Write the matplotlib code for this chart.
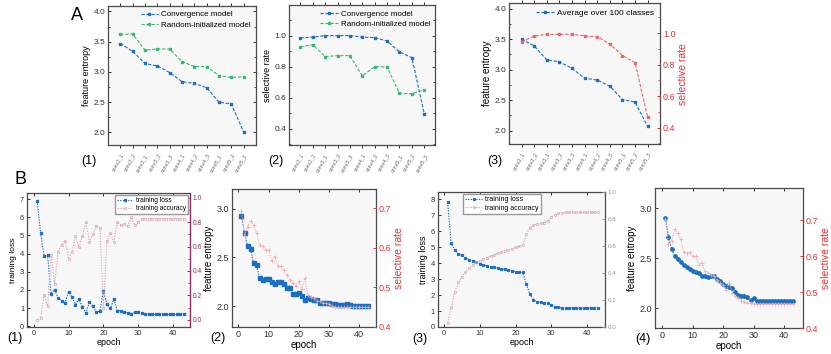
import matplotlib
matplotlib.use("Agg")
import matplotlib.pyplot as plt
from matplotlib.ticker import MultipleLocator

plt.rcParams["font.family"] = ["Liberation Sans", "DejaVu Sans"]

# ── data ─────────────────────────────────────────────────────────────────────
layers = ["conv2_1", "conv2_2", "conv3_1", "conv3_2", "conv3_3", "conv4_1",
          "conv4_2", "conv4_3", "conv5_1", "conv5_2", "conv5_3"]

a1_conv = [3.47, 3.34, 3.14, 3.10, 2.99, 2.84, 2.81, 2.74, 2.50, 2.47, 2.01]
a1_rand = [3.62, 3.63, 3.36, 3.38, 3.38, 3.17, 3.09, 3.09, 2.94, 2.91, 2.92]

a2_conv = [0.985, 0.99, 1.0, 1.0, 1.0, 0.99, 0.987, 0.965, 0.895, 0.858, 0.495]
a2_rand = [0.927, 0.942, 0.865, 0.871, 0.871, 0.74, 0.80, 0.798, 0.628, 0.626, 0.652]

a3_entropy = [3.50, 3.39, 3.16, 3.13, 3.02, 2.86, 2.83, 2.73, 2.51, 2.47, 2.07]
a3_rate = [0.945, 0.981, 0.992, 0.992, 0.994, 0.981, 0.977, 0.931, 0.857, 0.813, 0.467]

epochs = list(range(1, 44))

b1_loss = [6.9, 5.15, 3.85, 3.9, 1.78, 2.02, 1.56, 1.41, 1.3, 1.87, 1.6,
           1.19, 1.5, 1.05, 0.73, 1.34, 1.1, 0.77, 0.84, 1.93, 1.22, 0.98,
           1.48, 0.86, 0.86, 0.77, 0.74, 0.65, 0.79, 0.79, 0.73, 0.68, 0.65,
           0.65, 0.65, 0.65, 0.65, 0.65, 0.65, 0.65, 0.65, 0.65, 0.65]
b1_acc = [0.0, 0.01, 0.205, 0.11, 0.534, 0.29, 0.556, 0.616, 0.65, 0.50,
          0.556, 0.685, 0.595, 0.69, 0.80, 0.64, 0.70, 0.77, 0.75, 0.096,
          0.644, 0.712, 0.64, 0.80, 0.775, 0.786, 0.77, 0.84, 0.775, 0.80,
          0.83, 0.83, 0.83, 0.83, 0.83, 0.83, 0.83, 0.83, 0.83, 0.83, 0.83,
          0.83, 0.83]

b2_entropy = [2.92, 2.75, 2.62, 2.59, 2.44, 2.42, 2.29, 2.27, 2.28, 2.28,
              2.25, 2.23, 2.25, 2.25, 2.23, 2.19, 2.19, 2.13, 2.13, 2.14,
              2.11, 2.07, 2.09, 2.08, 2.07, 2.07, 2.04, 2.04, 2.03, 2.03,
              2.02, 2.02, 2.01, 2.01, 2.01, 2.02, 2.01, 2.0, 2.0, 2.0, 2.0,
              2.0, 2.0]
b2_rate = [0.694, 0.63, 0.654, 0.668, 0.658, 0.637, 0.608, 0.605, 0.595,
           0.595, 0.566, 0.578, 0.555, 0.553, 0.545, 0.532, 0.519, 0.511,
           0.504, 0.515, 0.496, 0.523, 0.481, 0.475, 0.473, 0.466, 0.465,
           0.46, 0.46, 0.458, 0.452, 0.45, 0.45, 0.45, 0.45, 0.45, 0.45,
           0.45, 0.45, 0.45, 0.45, 0.45, 0.45]

b3_loss = [7.8, 5.26, 4.84, 4.59, 4.48, 4.34, 4.21, 4.13, 4.04, 3.96, 3.89,
           3.83, 3.77, 3.73, 3.68, 3.64, 3.60, 3.56, 3.52, 3.47, 3.43, 3.41,
           2.69, 2.06, 1.71, 1.58, 1.54, 1.52, 1.49, 1.37, 1.26, 1.22, 1.18,
           1.18, 1.18, 1.18, 1.18, 1.18, 1.18, 1.18, 1.18, 1.18, 1.18]
b3_acc = [0.03, 0.146, 0.259, 0.33, 0.372, 0.405, 0.435, 0.46, 0.48, 0.49,
          0.503, 0.515, 0.528, 0.535, 0.548, 0.555, 0.565, 0.573, 0.58, 0.59,
          0.598, 0.606, 0.686, 0.736, 0.754, 0.761, 0.769, 0.774, 0.786,
          0.817, 0.832, 0.842, 0.847, 0.849, 0.849, 0.849, 0.849, 0.849,
          0.849, 0.849, 0.849, 0.849, 0.849]

b4_entropy = [2.9, 2.71, 2.59, 2.52, 2.49, 2.46, 2.43, 2.41, 2.39, 2.37,
              2.36, 2.35, 2.32, 2.32, 2.31, 2.32, 2.32, 2.29, 2.27, 2.24,
              2.22, 2.21, 2.2, 2.16, 2.13, 2.12, 2.12, 2.11, 2.08, 2.1, 2.07,
              2.07, 2.07, 2.07, 2.07, 2.07, 2.07, 2.07, 2.07, 2.07, 2.07,
              2.07, 2.07]
b4_rate = [0.703, 0.633, 0.644, 0.675, 0.666, 0.647, 0.612, 0.61, 0.612,
           0.6, 0.6, 0.577, 0.582, 0.558, 0.554, 0.549, 0.544, 0.535, 0.526,
           0.521, 0.507, 0.526, 0.498, 0.488, 0.484, 0.476, 0.473, 0.47,
           0.47, 0.467, 0.467, 0.467, 0.467, 0.467, 0.467, 0.467, 0.467,
           0.467, 0.467, 0.467, 0.467, 0.467, 0.467]

# ── style ────────────────────────────────────────────────────────────────────
BLUE = "#1a6fc0"
GREEN = "#3cb873"
RED = "#e8676c"
RED_TXT = "#e03434"
PINK = "#d9aab9"
MAROON = "#8e2f5e"
BG = "#f7f7f7"
SPINE = "#4a4a4a"
DASH = (0, (3, 1.5))
DOT = (0, (1.2, 1.2))


def _style(ax, fs=6):
    ax.set_facecolor(BG)
    for sp in ax.spines.values():
        sp.set_edgecolor(SPINE)
        sp.set_linewidth(0.9)
    ax.tick_params(which="both", direction="in", top=True, right=True,
                   labelsize=fs, colors="#333333", pad=2)
    ax.tick_params(which="major", length=2.5, width=0.7)
    ax.tick_params(which="minor", length=1.5, width=0.6)


def _layer_axis(ax):
    x = range(len(layers))
    ax.set_xticks(list(x))
    ax.set_xticklabels(layers, rotation=60, ha="right", fontsize=3.8,
                       color="#666666", rotation_mode="anchor")
    ax.tick_params(axis="x", direction="out", pad=3)


def _twin(ax, color, label=None, fs=6):
    tw = ax.twinx()
    tw.tick_params(which="both", direction="in", labelsize=fs, colors=color,
                   pad=2)
    tw.tick_params(which="major", length=2.5, width=0.7)
    tw.tick_params(which="minor", length=1.5, width=0.6)
    for sp in tw.spines.values():
        sp.set_visible(False)
    if label:
        tw.set_ylabel(label, color=color, fontsize=7.5, labelpad=2)
    ax.tick_params(axis="y", which="both", right=False)
    return tw


fig = plt.figure(figsize=(8.31, 3.54), dpi=100)

# ── A(1) ─────────────────────────────────────────────────────────────────────
ax = fig.add_axes([0.130, 0.590, 0.178, 0.393])
_style(ax)
x = list(range(len(layers)))
ax.plot(x, a1_conv, color=BLUE, ls=DASH, lw=0.8, marker="s", ms=1.8,
        label="Convergence model")
ax.plot(x, a1_rand, color=GREEN, ls=DASH, lw=0.8, marker="s", ms=1.8,
        label="Random-initialized model")
ax.set_xlim(-1, 11)
ax.set_ylim(1.79, 4.09)
ax.yaxis.set_major_locator(MultipleLocator(0.5))
ax.yaxis.set_minor_locator(MultipleLocator(0.25))
_layer_axis(ax)
ax.set_ylabel("feature entropy", fontsize=6.5, labelpad=2)
ax.legend(loc="upper right", frameon=False, fontsize=5.8, handlelength=2.2,
          borderaxespad=0.2, labelspacing=0.3, handletextpad=0.4)

# ── A(2) ─────────────────────────────────────────────────────────────────────
ax = fig.add_axes([0.348, 0.590, 0.176, 0.395])
_style(ax)
ax.plot(x, a2_conv, color=BLUE, ls=DASH, lw=0.8, marker="s", ms=1.8,
        label="Convergence model")
ax.plot(x, a2_rand, color=GREEN, ls=DASH, lw=0.8, marker="s", ms=1.8,
        label="Random-initialized model")
ax.set_xlim(-0.9, 10.9)
ax.set_ylim(0.295, 1.195)
ax.yaxis.set_major_locator(MultipleLocator(0.2))
ax.yaxis.set_minor_locator(MultipleLocator(0.1))
_layer_axis(ax)
ax.set_ylabel("selective rate", fontsize=6.5, labelpad=2)
ax.legend(loc="upper right", frameon=False, fontsize=5.8, handlelength=2.2,
          borderaxespad=0.2, labelspacing=0.3, handletextpad=0.4)

# ── A(3) ─────────────────────────────────────────────────────────────────────
ax = fig.add_axes([0.6125, 0.593, 0.182, 0.398])
_style(ax)
ax.plot(x, a3_entropy, color=BLUE, ls=DASH, lw=0.8, marker="s", ms=1.8,
        label="Average over 100 classes")
ax.set_xlim(-1, 11)
ax.set_ylim(1.78, 4.09)
ax.yaxis.set_major_locator(MultipleLocator(0.5))
ax.yaxis.set_minor_locator(MultipleLocator(0.25))
_layer_axis(ax)
ax.set_ylabel("feature entropy", fontsize=7, labelpad=2)
ax.legend(loc="upper right", frameon=False, fontsize=6, handlelength=2.2,
          borderaxespad=0.3, handletextpad=0.4)
tw = _twin(ax, RED_TXT, "selective rate", fs=6.5)
tw.plot(x, a3_rate, color=RED, ls=DASH, lw=0.8, marker="s", ms=1.8)
tw.set_ylim(0.295, 1.19)
tw.yaxis.set_major_locator(MultipleLocator(0.2))
tw.yaxis.set_minor_locator(MultipleLocator(0.1))

# ── B(1) ─────────────────────────────────────────────────────────────────────
ax = fig.add_axes([0.0325, 0.0763, 0.196, 0.3785])
_style(ax, fs=5.5)
l1, = ax.plot(epochs, b1_loss, color=BLUE, ls=DOT, lw=0.8, marker="s",
              ms=1.4, label="training loss")
ax.set_xlim(-1.9, 44.8)
ax.set_ylim(-0.04, 7.33)
ax.xaxis.set_major_locator(MultipleLocator(10))
ax.yaxis.set_major_locator(MultipleLocator(1))
ax.set_ylabel("training loss", fontsize=6, labelpad=2)
ax.set_xlabel("epoch", fontsize=6.5, labelpad=1)
tw = _twin(ax, MAROON, fs=4.8)
tw.spines["right"].set_visible(True)
tw.spines["right"].set_edgecolor(MAROON)
l2, = tw.plot(epochs, b1_acc, color=PINK, ls=DOT, lw=0.8, marker="o",
              ms=1.8, mfc="none", mew=0.5, label="training accuracy")
tw.set_ylim(-0.06, 1.04)
tw.yaxis.set_major_locator(MultipleLocator(0.2))
tw.yaxis.set_minor_locator(MultipleLocator(0.1))
tw.legend(handles=[l1, l2], loc="upper right", fontsize=4.8,
          handlelength=2.4, borderaxespad=0.3, labelspacing=0.2,
          handletextpad=0.4, fancybox=False, edgecolor="#999999",
          framealpha=1, borderpad=0.3)

# ── B(2) ─────────────────────────────────────────────────────────────────────
ax = fig.add_axes([0.279, 0.0763, 0.173, 0.39])
_style(ax, fs=6.5)
ax.plot(epochs, b2_entropy, color=BLUE, ls=DOT, lw=0.8, marker="s", ms=2.2)
ax.set_xlim(-2.2, 45.5)
ax.set_ylim(1.79, 3.2)
ax.xaxis.set_major_locator(MultipleLocator(10))
ax.yaxis.set_major_locator(MultipleLocator(0.5))
ax.set_ylabel("feature entropy", fontsize=7, labelpad=2)
ax.set_xlabel("epoch", fontsize=7, labelpad=1)
tw = _twin(ax, RED_TXT, "selective rate", fs=6.5)
tw.plot(epochs, b2_rate, color="#f4a9ab", ls=DOT, lw=0.7, marker="+",
        ms=2.3, mew=0.5)
tw.set_ylim(0.4, 0.749)
tw.yaxis.set_major_locator(MultipleLocator(0.1))

# ── B(3) ─────────────────────────────────────────────────────────────────────
ax = fig.add_axes([0.527, 0.0763, 0.201, 0.381])
_style(ax, fs=5.5)
l1, = ax.plot(epochs, b3_loss, color=BLUE, ls=DOT, lw=0.8, marker="s",
              ms=1.3, label="training loss")
ax.set_xlim(-1.7, 45)
ax.set_ylim(0, 8.44)
ax.xaxis.set_major_locator(MultipleLocator(10))
ax.yaxis.set_major_locator(MultipleLocator(1))
ax.set_ylabel("training loss", fontsize=6.5, labelpad=2)
ax.set_xlabel("epoch", fontsize=6.5, labelpad=1)
tw = _twin(ax, "#a88d9b", fs=4.5)
l2, = tw.plot(epochs, b3_acc, color=PINK, ls=DOT, lw=0.8, marker="o",
              ms=1.7, mfc="none", mew=0.5, label="training accuracy")
tw.set_ylim(0, 1.0)
tw.yaxis.set_major_locator(MultipleLocator(0.2))
tw.legend(handles=[l1, l2], loc="upper left", bbox_to_anchor=(0.14, 1.0),
          fontsize=5, handlelength=2.4, borderaxespad=0.3, labelspacing=0.2,
          handletextpad=0.4, fancybox=False, edgecolor="#999999",
          framealpha=1, borderpad=0.3)

# ── B(4) ─────────────────────────────────────────────────────────────────────
ax = fig.add_axes([0.788, 0.0734, 0.178, 0.395])
_style(ax, fs=6.5)
ax.plot(epochs, b4_entropy, color=BLUE, ls=DOT, lw=0.8, marker="o", ms=2.4)
ax.set_xlim(-2.5, 46.2)
ax.set_ylim(1.8, 3.2)
ax.xaxis.set_major_locator(MultipleLocator(10))
ax.yaxis.set_major_locator(MultipleLocator(0.5))
ax.set_ylabel("feature entropy", fontsize=7, labelpad=2)
ax.set_xlabel("epoch", fontsize=7, labelpad=1)
tw = _twin(ax, RED_TXT, "selective rate", fs=6.5)
tw.plot(epochs, b4_rate, color="#f4a9ab", ls=DOT, lw=0.7, marker="+",
        ms=2.3, mew=0.5)
tw.set_ylim(0.4, 0.79)
tw.yaxis.set_major_locator(MultipleLocator(0.1))

# ── panel letters ────────────────────────────────────────────────────────────
W, H = 831, 354
for txt, px, py, fs in [("A", 77, 15, 13), ("B", 20, 180, 13),
                        ("(1)", 89, 161, 9), ("(2)", 276, 161, 9),
                        ("(3)", 495, 161, 9),
                        ("(1)", 15, 338, 9), ("(2)", 218, 338, 9),
                        ("(3)", 420, 339, 9), ("(4)", 643, 339, 9)]:
    fig.text(px / W, 1 - py / H, txt, fontsize=fs, ha="center", va="center")

fig.savefig("out.png", dpi=100, facecolor="white")
